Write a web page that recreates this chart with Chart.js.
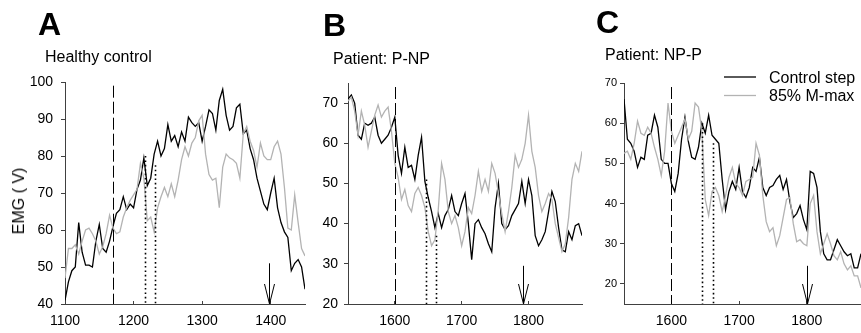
<!DOCTYPE html>
<html>
<head>
<meta charset="utf-8">
<script src="https://cdn.jsdelivr.net/npm/chart.js@4/dist/chart.umd.min.js"></script>
<style>
  html, body { margin: 0; padding: 0; background: #fff; }
  body { width: 861px; height: 333px; position: relative; overflow: hidden;
         font-family: "Liberation Sans", Arial, sans-serif; color: #000; }
  canvas { position: absolute; top: 0; }
  .lbl { position: absolute; white-space: nowrap; line-height: 1; }
  .panel { font-size: 32px; font-weight: bold; }
  .ttl { font-size: 16px; }
  .ytitle { font-size: 16px; transform: translate(-50%, -50%) rotate(-90deg); }
</style>
</head>
<body>
<canvas id="chartA" width="310" height="333" style="left:0px"></canvas>
<canvas id="chartB" width="280" height="333" style="left:310px"></canvas>
<canvas id="chartC" width="271" height="333" style="left:590px"></canvas>

<div class="lbl panel" style="left:38px;top:8px">A</div>
<div class="lbl panel" style="left:323px;top:9px">B</div>
<div class="lbl panel" style="left:596px;top:6px">C</div>
<div class="lbl ttl" style="left:45px;top:49px">Healthy control</div>
<div class="lbl ttl" style="left:333px;top:51px">Patient: P-NP</div>
<div class="lbl ttl" style="left:605px;top:47px">Patient: NP-P</div>
<div class="lbl ytitle" style="left:19px;top:201px">EMG ( V)</div>

<script>
// --- DATOS ---
// tiempo (ms) muestreado cada 5 ms
const timeA = [1100,1105,1110,1115,1120,1125,1130,1135,1140,1145,1150,1155,1160,1165,1170,1175,1180,1185,1190,1195,
  1200,1205,1210,1215,1220,1225,1230,1235,1240,1245,1250,1255,1260,1265,1270,1275,1280,1285,1290,1295,
  1300,1305,1310,1315,1320,1325,1330,1335,1340,1345,1350,1355,1360,1365,1370,1375,1380,1385,1390,1395,
  1400,1405,1410,1415,1420,1425,1430,1435,1440,1445,1450]
const timeBC = [1530,1535,1540,1545,1550,1555,1560,1565,1570,1575,1580,1585,1590,1595,1600,1605,1610,1615,1620,1625,
  1630,1635,1640,1645,1650,1655,1660,1665,1670,1675,1680,1685,1690,1695,1700,1705,1710,1715,1720,1725,
  1730,1735,1740,1745,1750,1755,1760,1765,1770,1775,1780,1785,1790,1795,1800,1805,1810,1815,1820,1825,
  1830,1835,1840,1845,1850,1855,1860,1865,1870,1875,1880]

// A: Healthy control
const controlA = [41,46,49,50,62,54,50.5,50.5,50,57, 61.5,55,54,57,61,64.5,65.5,69,65.5,67,
  66,71,73.5,79.5,72,74,80.5,84,80,82, 88.5,84,85.5,82.5,86.5,84,90.5,89,88,89,
  84,88,92.5,91.5,87,95,98,91,87,88, 93,94,86,87,82,79,74,70.5,67,65.5,
  70,74,66,62,59.5,58,49,51,52,50, 44]
const mmaxA = [47,55,55,56,53.5,57,60,60.5,59,57, 53.5,55.5,59,64,60.5,59,59.5,63.5,66,68,
  69.5,71,78,74,62.5,63.5,59.5,66,69,71.5, 69,72.5,69,73.5,79,82.5,80,83.5,85,89.5,
  91,80.5,75,73.5,74,66,77,80.5,79.5,79, 78,74,86,88,84,81.5,77,83.5,80,79,
  79,82.5,84,80.5,71.5,60.5,60,69.5,62,55, 53]

// B: Patient P-NP
const controlB = [71,72,70,62,61,65,64.5,65,66.5,62, 60,61,62,64,66.5,57,52.5,59,54,54.5,
  51,57,61.5,50.5,46.5,43,39,42.5,39,42, 43.5,47,43,42,45,47.5,40,31,40,41,
  39,37.5,35,33,44,50,40,38.5,39.5,42, 43.5,45,50.5,45,51,47,37,34.5,36,38,
  43,48,45.5,39,33.5,33,38,36,39.5,40, 37]
const mmaxB = [70.5,71.5,68,62,68,64.5,59,63,67,69.5, 66.5,68,69,63,55,51.5,46,48.5,44.5,43,
  47.5,49,47,44,38,34.5,36,43.5,55,51, 43,40,42,39,34.5,38,44,42.5,47,53,
  48,51,48,55,52.5,47.5,42.5,38,43,49, 57,54,56,60,67,58,54,47,43,45,
  47.5,46,40,36.5,33,35,41.5,51,55,53, 58]

// C: Patient NP-P
const controlC = [66,56,55,53,49,51.5,51,57,57.5,62, 59,51,50,50,45,43,47.5,56,61.5,55.5,
  51.5,51,54,60,57.5,62,57,56,55,46, 38.5,43,45.5,43.5,49,43,41.5,44,49,48,
  51.5,44,42,44,44.5,46,47,43.5,46,40.5, 36.5,37.5,39.5,36,33.5,48,47.5,44,33,27.5,
  26,26,28.5,31,29.5,28,27,27.5,24,24, 27.5]
const mmaxC = [52.5,53,51,55,60.5,57.5,57,59,57.5,54, 51,47,53,65,58,55,57,59,61,56,
  58,65,64,58,41,37,43,44,42,38, 42,46.5,49,45,44,42,45.5,46,46.5,55,
  52,42,35.5,33,34,29.5,32,36.5,41,41.5, 35,30.5,31,30,29.5,40,42,33,27.5,30,
  32.5,30,27,26,28,25,23.5,24.5,22,22, 19]

// marcas: inicio (discontinua), ventana (punteadas), flecha
const onsetA = 1170, onsetTopA = 99, dotsA = [1216, 1231], dotTopsA = [80, 77.5], arrowA = 1398, arrowTopA = 51
const onsetB = 1600, onsetTopB = 74, dotsB = [1646, 1662], dotTopsB = [51, 37], arrowB = 1792, arrowTopB = 29.5
const onsetC = 1600, onsetTopC = 69, dotsC = [1645, 1661], dotTopsC = [60, 55], arrowC = 1800, arrowTopC = 24.5

const seriesNames = ['Control step', '85% M-max']
const seriesColors = ['#000000', '#b3b3b3']
const AXIS = '#404040'
const FONT = '"Liberation Sans", Arial, sans-serif'

// --- PLUGIN: líneas verticales, flecha y leyenda ---
const markers = {
  id: 'markers',
  afterDatasetsDraw(chart, args, o) {
    const { ctx, scales: { x, y } } = chart
    const base = y.getPixelForValue(y.min)
    const vline = (t, top) => {
      const px = Math.round(x.getPixelForValue(t)) + 0.5
      ctx.beginPath()
      ctx.moveTo(px, y.getPixelForValue(top))
      ctx.lineTo(px, base)
      ctx.stroke()
    }
    ctx.save()
    ctx.strokeStyle = '#000'
    ctx.lineWidth = 1
    ctx.setLineDash([12, 4])
    vline(o.onset, o.onsetTop)
    ctx.lineWidth = 1.6
    ctx.setLineDash([1.6, 2.8])
    o.dots.forEach((t, i) => vline(t, o.dotTops[i]))
    ctx.lineWidth = 1
    ctx.setLineDash([])
    vline(o.arrow, o.arrowTop)
    const ax = Math.round(x.getPixelForValue(o.arrow)) + 0.5
    ctx.beginPath()
    ctx.moveTo(ax - 5, base - 20)
    ctx.lineTo(ax, base)
    ctx.lineTo(ax + 5, base - 20)
    ctx.stroke()

    if (o.legend) {
      ctx.font = '16px ' + FONT
      ctx.textBaseline = 'alphabetic'
      ctx.fillStyle = '#000'
      seriesNames.forEach((name, i) => {
        const ly = 77 + i * 18.5
        ctx.strokeStyle = seriesColors[i]
        ctx.lineWidth = 1.3
        ctx.beginPath()
        ctx.moveTo(134, ly)
        ctx.lineTo(166, ly)
        ctx.stroke()
        ctx.fillText(name, 179, ly + 5.8)
      })
    }
    ctx.restore()
  }
}

function panel(id, c) {
  const toPts = vals => c.time.map((t, i) => ({ x: t, y: vals[i] }))
  return new Chart(document.getElementById(id), {
    type: 'line',
    data: {
      datasets: [
        { label: seriesNames[1], data: toPts(c.mmax), borderColor: seriesColors[1], borderWidth: 1.3, pointRadius: 0, tension: 0 },
        { label: seriesNames[0], data: toPts(c.control), borderColor: seriesColors[0], borderWidth: 1.3, pointRadius: 0, tension: 0 }
      ]
    },
    options: {
      responsive: false,
      animation: false,
      events: [],
      layout: { padding: { left: 0, top: c.padTop, right: c.padRight, bottom: 0 } },
      plugins: {
        legend: { display: false },
        tooltip: { enabled: false },
        markers: c.markers
      },
      scales: {
        x: {
          type: 'linear', min: c.xMin, max: c.xMax,
          border: { color: AXIS, width: 1 },
          grid: { drawOnChartArea: false, tickLength: -3, color: AXIS },
          ticks: { stepSize: 100, includeBounds: false, maxRotation: 0, color: '#000', padding: 12,
                   font: { family: FONT, size: 14 }, callback: v => String(v) },
          afterFit: s => { s.height = 29 }
        },
        y: {
          min: c.yMin, max: c.yMax,
          border: { color: AXIS, width: 1 },
          grid: { drawOnChartArea: false, tickLength: 4, color: AXIS },
          ticks: { stepSize: 10, includeBounds: false, color: '#000', padding: c.yPad,
                   font: { family: FONT, size: c.yFont }, callback: v => String(v) },
          afterFit: s => { s.width = c.yWidth }
        }
      }
    },
    plugins: [markers]
  })
}

panel('chartA', {
  time: timeA, control: controlA, mmax: mmaxA,
  xMin: 1100, xMax: 1450, yMin: 40, yMax: 100,
  padTop: 82, padRight: 5, yWidth: 65, yPad: 8, yFont: 14,
  markers: { onset: onsetA, onsetTop: onsetTopA, dots: dotsA, dotTops: dotTopsA, arrow: arrowA, arrowTop: arrowTopA }
})
panel('chartB', {
  time: timeBC, control: controlB, mmax: mmaxB,
  xMin: 1530, xMax: 1880, yMin: 20, yMax: 75,
  padTop: 83, padRight: 8, yWidth: 38, yPad: 6, yFont: 14,
  markers: { onset: onsetB, onsetTop: onsetTopB, dots: dotsB, dotTops: dotTopsB, arrow: arrowB, arrowTop: arrowTopB }
})
panel('chartC', {
  time: timeBC, control: controlC, mmax: mmaxC,
  xMin: 1530, xMax: 1880, yMin: 15, yMax: 70,
  padTop: 83, padRight: 0, yWidth: 34, yPad: 3, yFont: 11,
  markers: { onset: onsetC, onsetTop: onsetTopC, dots: dotsC, dotTops: dotTopsC, arrow: arrowC, arrowTop: arrowTopC, legend: true }
})
</script>
</body>
</html>
